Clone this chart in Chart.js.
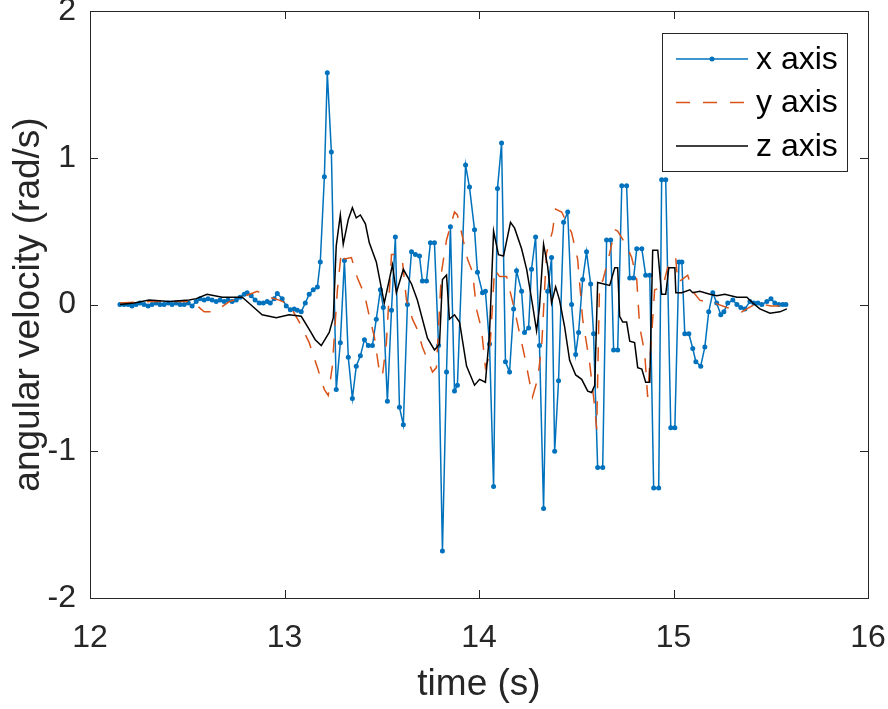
<!DOCTYPE html>
<html>
<head>
<meta charset="utf-8">
<script src="https://cdn.jsdelivr.net/npm/chart.js@4"></script>
<style>
  body { margin: 0; background: #fff; }
  canvas { display: block; }
</style>
</head>
<body>
<canvas id="grafico" width="888" height="709"></canvas>
<script>
// dati

// asse x (blu, con punti)
var tempoX = [12.154, 12.175, 12.196, 12.216, 12.237, 12.257, 12.278, 12.299, 12.319, 12.340,
  12.360, 12.381, 12.402, 12.422, 12.443, 12.463, 12.484, 12.505, 12.525, 12.546,
  12.566, 12.587, 12.607, 12.628, 12.649, 12.669, 12.690, 12.710, 12.731, 12.752,
  12.772, 12.793, 12.808, 12.829, 12.849, 12.870, 12.891, 12.911, 12.927, 12.947,
  12.963, 12.988, 13.009, 13.030, 13.050, 13.066, 13.086, 13.107, 13.127, 13.148,
  13.169, 13.184, 13.205, 13.220, 13.241, 13.266, 13.287, 13.308, 13.328, 13.349,
  13.369, 13.390, 13.411, 13.431, 13.452, 13.472, 13.493, 13.508, 13.529, 13.550,
  13.570, 13.591, 13.611, 13.632, 13.653, 13.673, 13.694, 13.709, 13.730, 13.750,
  13.771, 13.792, 13.812, 13.833, 13.853, 13.874, 13.889, 13.931, 13.951, 13.977,
  13.992, 14.018, 14.033, 14.054, 14.075, 14.095, 14.116, 14.136, 14.157, 14.178,
  14.193, 14.219, 14.234, 14.255, 14.270, 14.291, 14.311, 14.332, 14.353, 14.373,
  14.389, 14.409, 14.435, 14.456, 14.476, 14.497, 14.512, 14.533, 14.553, 14.574,
  14.589, 14.610, 14.636, 14.656, 14.677, 14.692, 14.713, 14.734, 14.759, 14.775,
  14.795, 14.811, 14.837, 14.857, 14.878, 14.898, 14.924, 14.939, 14.960, 14.986,
  15.007, 15.028, 15.043, 15.058, 15.079, 15.099, 15.115, 15.140, 15.161, 15.181,
  15.202, 15.222, 15.243, 15.259, 15.279, 15.305, 15.326, 15.346, 15.367, 15.393,
  15.413, 15.434, 15.454, 15.480, 15.501, 15.521, 15.542, 15.562, 15.578];
var valoriX = [0.00, 0.00, 0.00, -0.01, 0.00, 0.01, 0.00, -0.01, 0.00, 0.01,
  0.00, 0.00, 0.01, 0.00, 0.01, 0.00, 0.00, 0.01, -0.01, 0.02,
  0.04, 0.03, 0.04, 0.03, 0.02, 0.03, 0.02, 0.03, 0.02, 0.03,
  0.05, 0.07, 0.08, 0.06, 0.03, 0.01, 0.01, 0.02, 0.01, 0.04,
  0.075, 0.04, -0.01, -0.035, -0.03, -0.04, -0.05, 0.01, 0.07, 0.10,
  0.12, 0.29, 0.87, 1.58, 1.04, -0.58, -0.26, 0.30, -0.36, -0.64,
  -0.42, -0.35, -0.24, -0.28, -0.28, -0.10, 0.10, -0.02, -0.66, -0.04,
  0.46, -0.70, -0.82, 0.00, 0.36, 0.34, 0.33, 0.16, 0.16, 0.42,
  0.42, -0.28, -1.68, -0.46, 0.53, -0.59, -0.55, 0.95, 0.80, 0.51,
  0.22, 0.08, 0.09, -0.27, -1.24, 0.79, 1.10, -0.39, -0.46, -0.03,
  0.23, 0.09, -0.19, -0.16, 0.24, 0.46, -0.28, -1.39, 0.09, 0.32,
  -1.00, -0.52, 0.56, 0.63, 0.00, -0.34, -0.19, 0.17, 0.36, 0.14,
  -0.20, -1.11, -1.11, 0.44, 0.44, -0.31, -0.31, 0.81, 0.81, 0.18,
  0.18, 0.38, 0.38, 0.20, 0.20, -1.25, -1.25, 0.85, 0.85, -0.84,
  -0.84, 0.29, 0.29, -0.20, -0.20, -0.30, -0.39, -0.42, -0.29, -0.05,
  0.08, 0.01, -0.07, -0.05, 0.01, 0.03, 0.00, -0.02, -0.03, 0.02,
  0.01, 0.01, 0.00, 0.02, 0.04, 0.01, 0.00, 0.00, 0.00];

// asse y (arancione, tratteggiato)
var tempoY = [12.154, 12.304, 12.459, 12.535, 12.561, 12.587, 12.638, 12.674, 12.716, 12.783,
  12.860, 12.921, 12.973, 13.024, 13.076, 13.127, 13.169, 13.205, 13.225, 13.246,
  13.272, 13.292, 13.308, 13.344, 13.375, 13.411, 13.436, 13.462, 13.488, 13.503,
  13.524, 13.550, 13.575, 13.606, 13.627, 13.658, 13.683, 13.709, 13.761, 13.781,
  13.807, 13.833, 13.874, 13.889, 13.910, 13.941, 13.967, 13.987, 14.013, 14.033,
  14.054, 14.080, 14.106, 14.142, 14.167, 14.193, 14.234, 14.275, 14.301, 14.322,
  14.347, 14.378, 14.394, 14.425, 14.476, 14.507, 14.533, 14.569, 14.595, 14.605,
  14.620, 14.636, 14.672, 14.698, 14.713, 14.759, 14.785, 14.811, 14.826, 14.852,
  14.867, 14.888, 14.903, 14.945, 14.981, 15.012, 15.022, 15.043, 15.073, 15.099,
  15.135, 15.187, 15.212, 15.274, 15.351, 15.377, 15.429, 15.501, 15.583];
var valoriY = [0.01, 0.02, 0.02, 0.02, -0.02, -0.05, -0.05, -0.02, 0.02, 0.05,
  0.09, 0.05, 0.03, 0.00, -0.12, -0.26, -0.43, -0.58, -0.62, -0.42,
  0.10, 0.36, 0.31, 0.32, 0.18, 0.07, -0.08, -0.22, -0.46, -0.49,
  -0.26, 0.34, 0.34, 0.30, 0.03, -0.10, -0.17, -0.29, -0.46, -0.43,
  0.22, 0.44, 0.63, 0.61, 0.49, 0.31, 0.22, -0.03, -0.17, -0.43,
  -0.35, 0.24, 0.19, 0.19, 0.05, -0.10, -0.35, -0.63, -0.51, -0.29,
  0.35, 0.50, 0.65, 0.63, 0.49, 0.31, -0.10, -0.40, -0.70, -0.85,
  0.15, 0.16, 0.35, 0.51, 0.50, 0.40, 0.32, 0.17, -0.15, -0.33,
  -0.63, -0.20, 0.10, 0.12, 0.31, 0.31, 0.15, 0.17, 0.20, 0.09,
  0.03, 0.01, 0.01, -0.02, -0.05, -0.03, 0.01, -0.01, -0.01];

// asse z (nero)
var tempoZ = [12.154, 12.227, 12.304, 12.407, 12.510, 12.546, 12.602, 12.680, 12.783, 12.834,
  12.885, 12.958, 13.024, 13.086, 13.127, 13.158, 13.189, 13.230, 13.251, 13.266,
  13.287, 13.302, 13.328, 13.349, 13.369, 13.390, 13.416, 13.436, 13.472, 13.513,
  13.555, 13.575, 13.611, 13.653, 13.683, 13.735, 13.771, 13.797, 13.812, 13.833,
  13.848, 13.874, 13.900, 13.936, 13.977, 14.003, 14.033, 14.054, 14.075, 14.100,
  14.126, 14.162, 14.183, 14.219, 14.245, 14.275, 14.296, 14.311, 14.332, 14.353,
  14.373, 14.394, 14.414, 14.440, 14.466, 14.497, 14.528, 14.559, 14.579, 14.595,
  14.610, 14.672, 14.698, 14.713, 14.723, 14.739, 14.759, 14.775, 14.800, 14.816,
  14.837, 14.857, 14.878, 14.893, 14.919, 14.939, 14.960, 14.976, 15.007, 15.012,
  15.043, 15.084, 15.099, 15.135, 15.187, 15.222, 15.264, 15.326, 15.377, 15.408,
  15.444, 15.496, 15.547, 15.583];
var valoriZ = [0.00, 0.01, 0.03, 0.02, 0.03, 0.04, 0.07, 0.05, 0.05, -0.01,
  -0.07, -0.09, -0.07, -0.08, -0.17, -0.24, -0.28, -0.19, -0.09, 0.40,
  0.61, 0.41, 0.58, 0.66, 0.59, 0.61, 0.55, 0.42, 0.29, 0.01,
  0.27, 0.08, 0.24, 0.14, 0.03, -0.23, -0.31, -0.27, 0.17, 0.20,
  -0.10, -0.07, -0.12, -0.42, -0.55, -0.51, -0.53, -0.20, 0.50, 0.34,
  0.33, 0.56, 0.52, 0.38, 0.24, 0.00, -0.18, -0.02, 0.41, 0.26,
  0.01, 0.12, 0.03, -0.15, -0.38, -0.48, -0.51, -0.59, -0.60, -0.55,
  0.15, 0.13, 0.25, 0.25, -0.08, -0.12, -0.12, -0.25, -0.26, -0.43,
  -0.44, -0.53, -0.53, 0.37, 0.37, 0.07, 0.07, 0.25, 0.25, 0.08,
  0.08, 0.10, 0.08, 0.09, 0.07, 0.06, 0.07, 0.05, 0.05, 0.01,
  -0.03, -0.06, -0.05, -0.03];

var nomiSerie = ['x axis', 'y axis', 'z axis'];
var tickAsseX = [12, 13, 14, 15, 16];
var tickAsseY = [-2, -1, 0, 1, 2];

var BLU = '#0072BD';
var ARANCIO = '#D95319';
var GRIGIO = '#262626';
var FONT = '"Liberation Sans", Arial, Helvetica, sans-serif';

function punti(tempi, valori) {
  var out = [];
  for (var i = 0; i < tempi.length; i++) {
    out.push({x: tempi[i], y: valori[i]});
  }
  return out;
}

// box con tacche verso l'interno + legenda dentro al grafico
var boxMatlab = {
  id: 'boxMatlab',
  afterDraw: function(chart) {
    var ctx = chart.ctx;
    var area = chart.chartArea;
    var sx = chart.scales.x;
    var sy = chart.scales.y;
    ctx.save();
    ctx.strokeStyle = GRIGIO;
    ctx.lineWidth = 1;
    ctx.strokeRect(area.left + 0.5, area.top + 0.5, area.right - area.left, area.bottom - area.top);
    ctx.beginPath();
    tickAsseX.forEach(function(v) {
      var px = Math.round(sx.getPixelForValue(v)) + 0.5;
      ctx.moveTo(px, area.bottom); ctx.lineTo(px, area.bottom - 8);
      ctx.moveTo(px, area.top); ctx.lineTo(px, area.top + 8);
    });
    tickAsseY.forEach(function(v) {
      var py = Math.round(sy.getPixelForValue(v)) + 0.5;
      ctx.moveTo(area.left, py); ctx.lineTo(area.left + 8, py);
      ctx.moveTo(area.right, py); ctx.lineTo(area.right - 8, py);
    });
    ctx.stroke();

    // legenda
    var w = 185, h = 138;
    var x0 = area.right - 21 - w;
    var y0 = area.top + 22;
    ctx.fillStyle = '#fff';
    ctx.fillRect(x0, y0, w, h);
    ctx.strokeStyle = GRIGIO;
    ctx.strokeRect(x0 + 0.5, y0 + 0.5, w, h);
    var stili = [
      {colore: BLU, dash: [], punto: true, spessore: 1.5},
      {colore: ARANCIO, dash: [14, 13], punto: false, spessore: 1.5},
      {colore: '#000', dash: [], punto: false, spessore: 1.5}
    ];
    ctx.font = '32px ' + FONT;
    ctx.textBaseline = 'middle';
    for (var i = 0; i < nomiSerie.length; i++) {
      var yy = y0 + 26 + i * 43.5;
      var s = stili[i];
      ctx.strokeStyle = s.colore;
      ctx.lineWidth = s.spessore;
      ctx.setLineDash(s.dash);
      ctx.beginPath();
      ctx.moveTo(x0 + 14, yy); ctx.lineTo(x0 + 86, yy);
      ctx.stroke();
      ctx.setLineDash([]);
      if (s.punto) {
        ctx.fillStyle = s.colore;
        ctx.beginPath();
        ctx.arc(x0 + 50, yy, 2.5, 0, Math.PI * 2);
        ctx.fill();
      }
      ctx.fillStyle = '#000';
      ctx.fillText(nomiSerie[i], x0 + 94, yy + 1);
    }
    ctx.restore();
  }
};

var chart = new Chart(document.getElementById('grafico'), {
  type: 'scatter',
  data: {
    datasets: [{
      label: nomiSerie[0],
      data: punti(tempoX, valoriX),
      showLine: true,
      borderColor: BLU,
      backgroundColor: BLU,
      borderWidth: 1.5,
      pointRadius: 2.5,
      pointBorderWidth: 0,
      order: 3
    },
    {
      label: nomiSerie[1],
      data: punti(tempoY, valoriY),
      showLine: true,
      borderColor: ARANCIO,
      borderWidth: 1.5,
      borderDash: [14, 13],
      pointRadius: 0,
      order: 2
    },
    {
      label: nomiSerie[2],
      data: punti(tempoZ, valoriZ),
      showLine: true,
      borderColor: '#000',
      borderWidth: 1.5,
      pointRadius: 0,
      order: 1
    }]
  },
  options: {
    responsive: false,
    animation: false,
    layout: { padding: { top: 11, right: 20, left: 0, bottom: 0 } },
    plugins: {
      legend: { display: false },
      tooltip: { enabled: false }
    },
    scales: {
      x: {
        type: 'linear',
        min: tickAsseX[0],
        max: tickAsseX[tickAsseX.length - 1],
        grid: { display: false, drawTicks: false },
        border: { display: false },
        ticks: {
          stepSize: 1,
          padding: 21,
          color: GRIGIO,
          font: { family: FONT, size: 32 }
        },
        title: {
          display: true,
          text: 'time (s)',
          color: GRIGIO,
          padding: { top: 2, bottom: 2 },
          font: { family: FONT, size: 37 }
        },
        afterFit: function(scale) {
          scale.height = 111;
          scale.paddingLeft = 0;
          scale.paddingRight = 0;
        }
      },
      y: {
        type: 'linear',
        min: tickAsseY[0],
        max: tickAsseY[tickAsseY.length - 1],
        grid: { display: false, drawTicks: false },
        border: { display: false },
        ticks: {
          stepSize: 1,
          padding: 14,
          color: GRIGIO,
          font: { family: FONT, size: 32 }
        },
        title: {
          display: true,
          text: 'angular velocity (rad/s)',
          color: GRIGIO,
          padding: { top: 7, bottom: 2 },
          font: { family: FONT, size: 37 }
        },
        afterFit: function(scale) {
          scale.width = 90;
          scale.paddingTop = 0;
          scale.paddingBottom = 0;
        }
      }
    }
  },
  plugins: [boxMatlab]
});
</script>
</body>
</html>
